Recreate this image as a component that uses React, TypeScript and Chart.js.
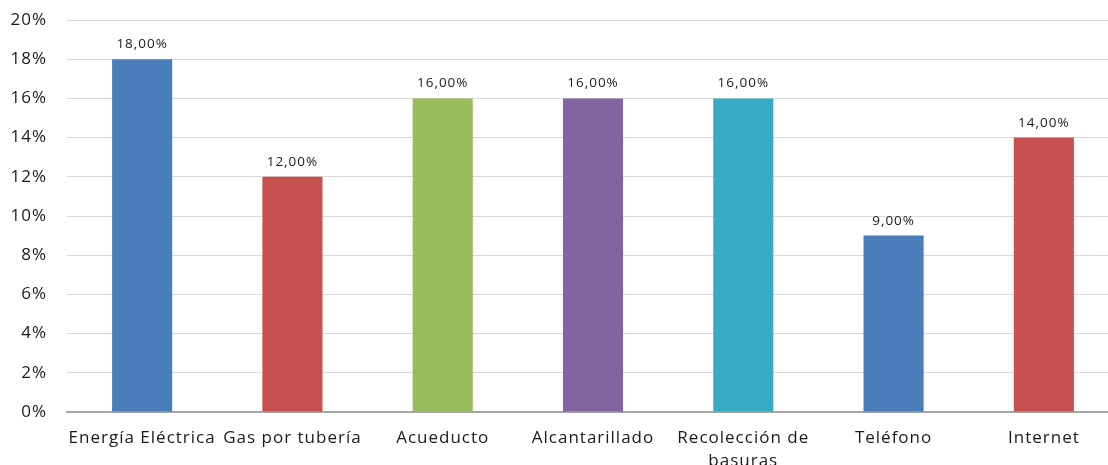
import React, { useEffect, useRef } from "react";
import { Chart, registerables } from "chart.js";

Chart.register(...registerables);

const categories: (string | string[])[] = [
  "Energía Eléctrica",
  "Gas por tubería",
  "Acueducto",
  "Alcantarillado",
  ["Recolección de", "basuras"],
  "Teléfono",
  "Internet",
];
const values = [18, 12, 16, 16, 16, 9, 14];
const barColors = ["#4A7EBB", "#C8514F", "#98BB5C", "#8264A0", "#37ABC3", "#4A7EBB", "#C8514F"];
const yTicks = [0, 2, 4, 6, 8, 10, 12, 14, 16, 18, 20];

const FONT = "'Open Sans', 'DejaVu Sans', sans-serif";

const spacingPlugin = {
  id: "spacing",
  beforeInit(chart: any) {
    chart.ctx.letterSpacing = "1px";
  },
  beforeDraw(chart: any) {
    chart.ctx.letterSpacing = "1px";
  },
};

const labelPlugin = {
  id: "barLabels",
  afterDatasetsDraw(chart: any) {
    const ctx = chart.ctx;
    const meta = chart.getDatasetMeta(0);
    ctx.save();
    ctx.letterSpacing = "1px";
    ctx.font = `13.5px ${FONT}`;
    ctx.fillStyle = "#1a1a1a";
    ctx.textAlign = "center";
    ctx.textBaseline = "alphabetic";
    meta.data.forEach((bar: any, i: number) => {
      const v = values[i];
      const txt = v.toFixed(2).replace(".", ",") + "%";
      ctx.fillText(txt, bar.x, bar.y - 11);
    });
    ctx.restore();
  },
};

export default function App() {
  const ref = useRef<HTMLCanvasElement>(null);
  useEffect(() => {
    if (!ref.current) return;
    const chart = new Chart(ref.current, {
      type: "bar",
      data: {
        labels: categories,
        datasets: [
          {
            data: values,
            backgroundColor: barColors,
            borderWidth: 0,
            barPercentage: 0.4,
            categoryPercentage: 1,
          },
        ],
      },
      options: {
        animation: false,
        responsive: false,
        maintainAspectRatio: false,
        layout: { padding: { top: 20, right: 6, left: 0, bottom: 0 } },
        plugins: { legend: { display: false }, tooltip: { enabled: false } },
        scales: {
          x: {
            grid: { display: false, drawTicks: false },
            border: { display: true, color: "#A6A6A6", width: 2 },
            ticks: {
              padding: 15,
              color: "#1a1a1a",
              font: { family: FONT, size: 17, lineHeight: 1.35 },
              maxRotation: 0,
              autoSkip: false,
            },
            afterFit(scale: any) {
              scale.height = 53;
            },
          },
          y: {
            min: 0,
            max: 20,
            afterBuildTicks(scale: any) {
              scale.ticks = yTicks.map((v) => ({ value: v }));
            },
            grid: { color: "#D9D9D9", lineWidth: 1, drawTicks: false },
            border: { display: false },
            ticks: {
              padding: 20,
              color: "#1a1a1a",
              font: { family: FONT, size: 17 },
              callback: (v: any) => v + "%",
            },
            afterFit(scale: any) {
              scale.width = 67;
              scale.paddingTop = 0;
              scale.paddingBottom = 0;
            },
          },
        },
      },
      plugins: [spacingPlugin, labelPlugin],
    });
    return () => chart.destroy();
  }, []);
  return (
    <div style={{ position: "fixed", left: 0, top: 0, width: 1108, height: 465, overflow: "hidden", background: "#fff" }}>
      <canvas ref={ref} width={1125} height={465} style={{ width: 1125, height: 465, display: "block" }} />
    </div>
  );
}
